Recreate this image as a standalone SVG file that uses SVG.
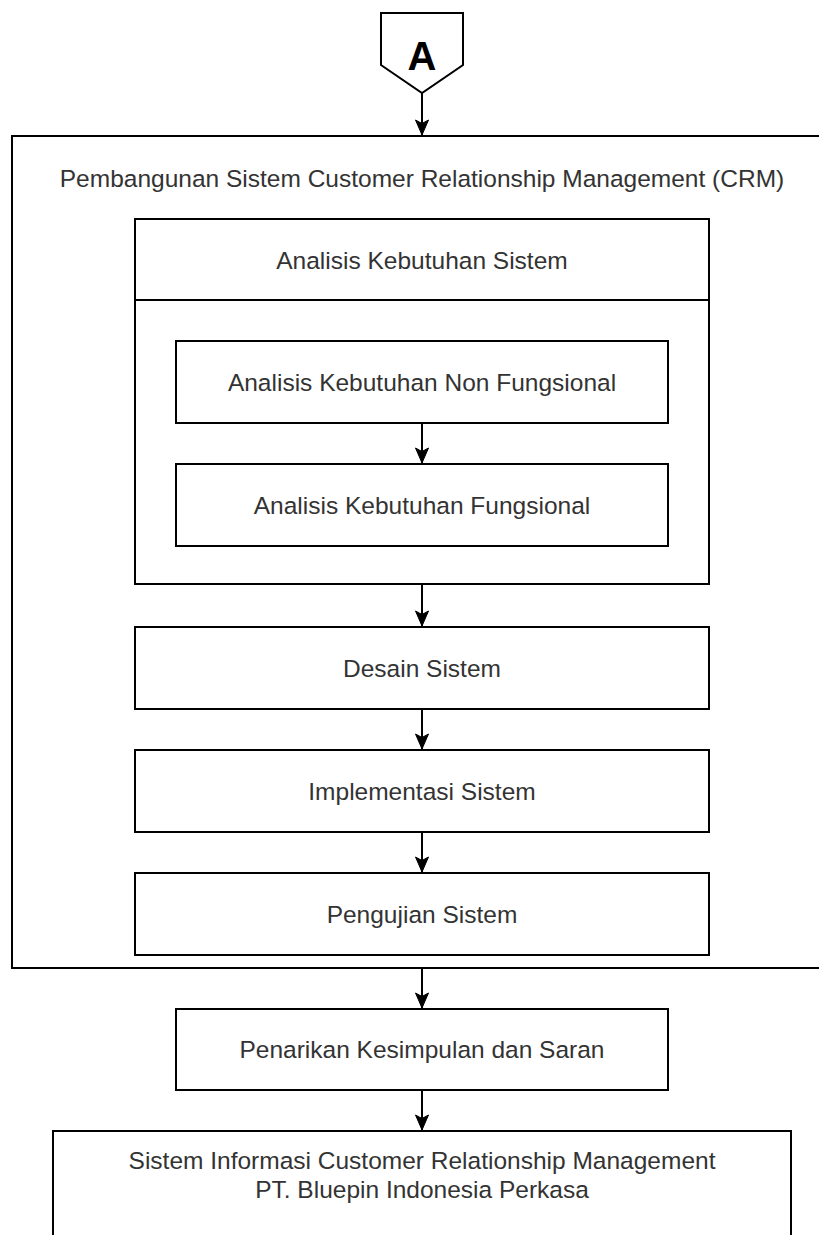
<svg xmlns="http://www.w3.org/2000/svg" width="819" height="1235" viewBox="0 0 819 1235">
<style>
.box{fill:#fff;stroke:#000;stroke-width:2}
.lbl{font-family:"Liberation Sans",Arial,sans-serif;font-size:24.5px;fill:#333;text-anchor:middle}
.conn{stroke:#000;stroke-width:2;fill:none}
</style>
<defs>
<marker id="arr" markerUnits="userSpaceOnUse" markerWidth="18" markerHeight="16" refX="16" refY="8" orient="auto" viewBox="0 0 18 16">
<path d="M1,1.5 L16,8 L1,14.5 L4.5,8 Z" fill="#000" stroke="#000" stroke-width="1"/>
</marker>
</defs>
<rect width="819" height="1235" fill="#fff"/>
<g id="offpage-A">
<polygon class="box" points="381,13 463,13 463,65 422,93 381,65"/>
<text x="422" y="70" font-family="Liberation Sans,Arial,sans-serif" font-size="40" font-weight="bold" fill="#000" text-anchor="middle">A</text>
</g>
<g id="crm-container">
<rect class="box" x="12" y="136" width="820" height="832"/>
<text class="lbl" x="422" y="187">Pembangunan Sistem Customer Relationship Management (CRM)</text>
</g>
<g id="analisis-container">
<rect class="box" x="135" y="219" width="574" height="365"/>
<line x1="135" y1="300" x2="709" y2="300" stroke="#000" stroke-width="2"/>
<text class="lbl" x="422" y="269">Analisis Kebutuhan Sistem</text>
</g>
<g id="non-fungsional">
<rect class="box" x="176" y="341" width="492" height="82"/>
<text class="lbl" x="422" y="391">Analisis Kebutuhan Non Fungsional</text>
</g>
<g id="fungsional">
<rect class="box" x="176" y="464" width="492" height="82"/>
<text class="lbl" x="422" y="514">Analisis Kebutuhan Fungsional</text>
</g>
<g id="desain">
<rect class="box" x="135" y="627" width="574" height="82"/>
<text class="lbl" x="422" y="677">Desain Sistem</text>
</g>
<g id="implementasi">
<rect class="box" x="135" y="750" width="574" height="82"/>
<text class="lbl" x="422" y="800">Implementasi Sistem</text>
</g>
<g id="pengujian">
<rect class="box" x="135" y="873" width="574" height="82"/>
<text class="lbl" x="422" y="923">Pengujian Sistem</text>
</g>
<g id="penarikan">
<rect class="box" x="176" y="1009" width="492" height="81"/>
<text class="lbl" x="422" y="1058">Penarikan Kesimpulan dan Saran</text>
</g>
<g id="sistem-informasi">
<rect class="box" x="53" y="1131" width="738" height="120"/>
<text class="lbl" x="422" y="1169">Sistem Informasi Customer Relationship Management</text>
<text class="lbl" x="422" y="1198">PT. Bluepin Indonesia Perkasa</text>
</g>
<g id="connectors">
<line class="conn" x1="422" y1="93" x2="422" y2="135" marker-end="url(#arr)"/>
<line class="conn" x1="422" y1="423" x2="422" y2="463" marker-end="url(#arr)"/>
<line class="conn" x1="422" y1="584" x2="422" y2="626" marker-end="url(#arr)"/>
<line class="conn" x1="422" y1="709" x2="422" y2="749" marker-end="url(#arr)"/>
<line class="conn" x1="422" y1="832" x2="422" y2="872" marker-end="url(#arr)"/>
<line class="conn" x1="422" y1="968" x2="422" y2="1008" marker-end="url(#arr)"/>
<line class="conn" x1="422" y1="1090" x2="422" y2="1130" marker-end="url(#arr)"/>
</g>
</svg>
